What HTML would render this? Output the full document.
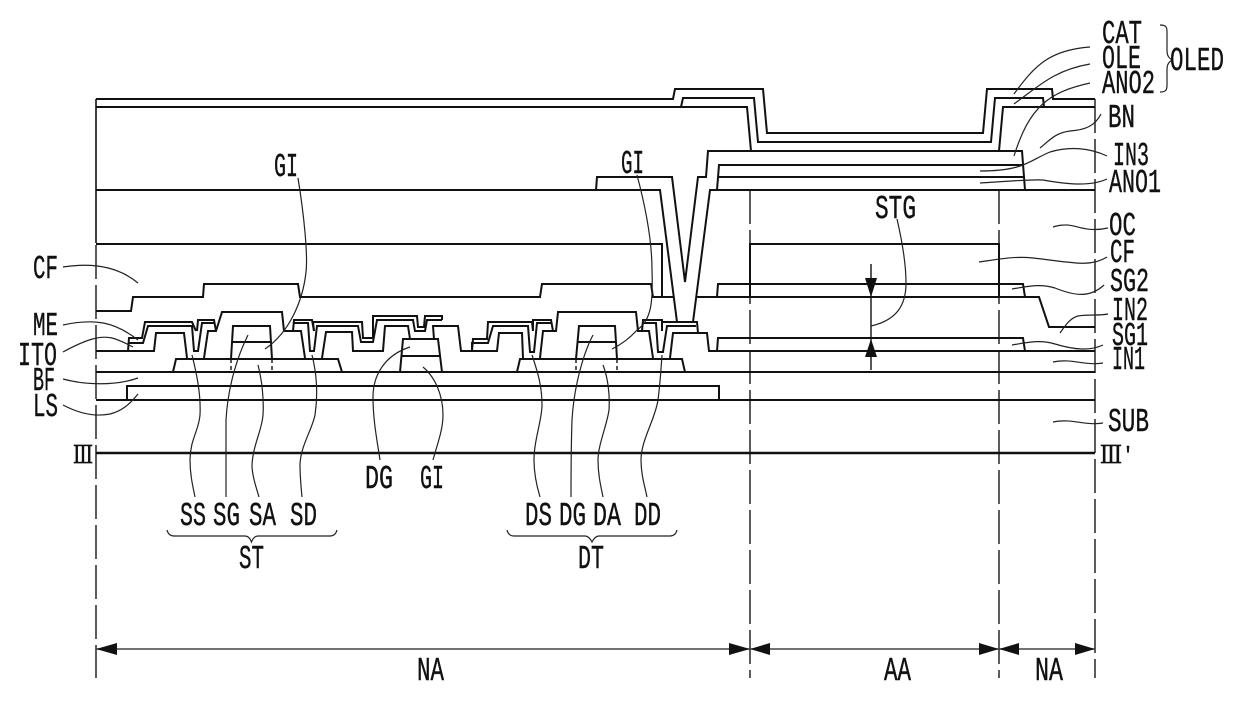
<!DOCTYPE html>
<html><head><meta charset="utf-8"><style>
html,body{margin:0;padding:0;background:#fff;width:1240px;height:719px;overflow:hidden}
svg{display:block}
text{font-family:"Liberation Mono","Noto Sans CJK JP",monospace;font-size:33px;fill:#111;stroke:#111;stroke-width:.4}
.s{fill:none;stroke:#111;stroke-width:2;stroke-linejoin:miter}
.l{fill:none;stroke:#222;stroke-width:1.2}
.d{fill:none;stroke:#333;stroke-width:1.6;stroke-dasharray:34 6}
</style></head><body>
<svg width="1240" height="719" viewBox="0 0 1240 719" xmlns="http://www.w3.org/2000/svg">
<!-- vertical reference lines -->
<path class="s" style="stroke-width:1.6" d="M96 99V243"/>
<path class="d" d="M96 245V678"/>
<path class="d" d="M750 190V678"/>
<path class="d" d="M999 190V678"/>
<path class="d" d="M1095 99V678"/>
<!-- upper layers -->
<path class="s" d="M96 99H673L675 89H763L767 133H983L987 89H1052L1053 99H1095"/>
<path class="s" d="M96 107H747L751 151H1022L1025 190"/>
<path class="s" d="M681 107L683 98H754L758 142H991L995 98H1043L1044 107H1095"/>
<path class="s" d="M1044 107H1003L999 151"/>
<path class="s" d="M751 151H708L706 177H698L685 282L672 177H597L596 190"/>
<path class="s" d="M96 190H660L677 322"/>
<path class="s" d="M717 190L719 165H1022"/>
<path class="s" d="M718 177H1024"/>
<path class="s" d="M693 322L710 190H1095"/>
<!-- CF -->
<path class="s" d="M96 244H662V297"/>
<path class="s" d="M750 297V244H999V297"/>
<path class="s" d="M96 311H131L133 297H203L204 284H298L300 297H540L542 284H651L653 297H673"/>
<path class="s" d="M697 297H1039L1049 327H1095"/>
<path class="s" d="M717 297L718 284H1023L1025 297"/>
<path class="s" d="M717 351L718 338H1023L1025 351"/>
<path class="s" d="M96 351H154L156 333H184L187 358"/>
<path class="s" d="M709 351H1095"/>
<path class="s" d="M96 372H1095"/>
<path class="s" d="M96 400H1095"/>
<path class="s" d="M127 400V386H719V400"/>
<path class="s" style="stroke-width:2.6" d="M96 453H1095"/>
<!-- source/drain stacks, ST -->
<path class="s" d="M128 351L129 338H142L145 322H192L196 331"/>
<path class="s" d="M197 331L198 320H214L216 331"/>
<path class="s" d="M129 343H143L148 326H192L194 351H198L202 323H214"/>
<path class="s" d="M204 358L208 331H216L222 312H282L284 331H293L294 320H312L314 331"/>
<path class="s" d="M294 323H308L310 351H314L317 326H358L361 342H373L377 320H413L415 331H425L427 320H442"/>
<path class="s" d="M293 331H301L305 358"/>
<path class="s" d="M314 331L313 322H362L363 338H373L373 316H417L418 327H424L425 316H442V320"/>
<path class="s" d="M322 358L326 332H352L353 351H383L385 326H408L410 339"/>
<path class="s" d="M173 372L176 359H338L342 372"/>
<path class="s" d="M231 359L233 326H270L272 359"/>
<path class="s" d="M232 342H271"/>
<path class="s" style="stroke-width:1.4;stroke-dasharray:4 3" d="M231 359V372M272 359V372"/>
<path class="s" d="M400 372L403 339H438L442 372"/>
<path class="s" d="M402 356H440"/>
<path class="s" d="M434 339L433 326H458L461 351H472L473 339H487L488 322H532L533 331"/>
<path class="s" d="M472 351V343H488L493 326H528L530 352H534L537 323H551"/>
<path class="s" d="M472 351H497L499 333H522L523 358"/>
<path class="s" d="M533 331L533 320H551L553 331H556L558 312H636L638 331H642L643 320H662V331"/>
<path class="s" d="M540 358L543 331H556"/>
<path class="s" d="M517 372L520 359H682L685 372"/>
<path class="s" d="M576 359L579 326H615L617 359"/>
<path class="s" d="M578 342H616"/>
<path class="s" style="stroke-width:1.4;stroke-dasharray:4 3" d="M576 359V372M617 359V372"/>
<path class="s" d="M642 323H656L658 352H663L667 326H696"/>
<path class="s" d="M642 331H649L653 358"/>
<path class="s" d="M663 322H697L698 333"/>
<path class="s" d="M670 358L673 333H707L709 351H718"/>
<!-- STG arrows -->
<path class="s" style="stroke-width:1.4" d="M871 264V370"/>
<path fill="#111" d="M865 278H877L871 297Z"/>
<path fill="#111" d="M865 357H877L871 339Z"/>
<!-- dimension arrows -->
<path class="s" style="stroke-width:1.6;stroke:#444" d="M96 649H1095"/>
<path fill="#111" d="M96 649L117 643V655Z"/>
<path fill="#111" d="M750 649L729 643V655Z"/>
<path fill="#111" d="M750 649L770 643V655Z"/>
<path fill="#111" d="M999 649L979 643V655Z"/>
<path fill="#111" d="M999 649L1019 643V655Z"/>
<path fill="#111" d="M1095 649L1075 643V655Z"/>
<!-- leaders -->
<path class="l" d="M298 178C304 215 308 255 306 272C303 300 290 332 265 349"/>
<path class="l" d="M637 175C645 205 652 240 652 270C653 300 652 320 637 330C630 338 622 344 612 349"/>
<path class="l" d="M897 219C903 245 906 265 906 283C906 305 897 320 871 326"/>
<path class="l" d="M1090 47C1050 50 1035 65 1014 94"/>
<path class="l" d="M1090 64C1055 70 1040 85 1014 104"/>
<path class="l" d="M1090 83C1050 92 1030 105 1014 156"/>
<path class="l" d="M1101 114C1095 126 1085 130 1070 131C1055 133 1050 140 1040 148"/>
<path class="l" d="M1107 156C1090 148 1070 146 1050 152C1030 160 1025 171 980 171"/>
<path class="l" d="M1107 179C1090 187 1065 184 1043 180C1030 179 1000 182 980 183"/>
<path class="l" d="M1108 228C1085 233 1075 224 1065 225C1060 225 1056 226 1053 227"/>
<path class="l" d="M1107 257C1090 268 1070 262 1033 258C1015 256 1000 259 979 262"/>
<path class="l" d="M1104 285C1090 298 1075 296 1055 288C1040 283 1025 287 1012 289"/>
<path class="l" d="M1108 314C1098 316 1090 314 1078 316C1070 318 1065 326 1060 333"/>
<path class="l" d="M1103 345C1090 351 1075 350 1055 344C1040 339 1025 343 1012 345"/>
<path class="l" d="M1103 363C1085 366 1072 358 1053 362"/>
<path class="l" d="M1103 423C1085 426 1072 418 1053 422"/>
<path class="l" d="M63 267C95 262 120 268 138 283"/>
<path class="l" d="M63 325C95 318 115 322 138 340"/>
<path class="l" d="M63 352C85 340 100 335 112 338C120 340 127 344 133 347"/>
<path class="l" d="M63 379C85 385 115 386 138 378"/>
<path class="l" d="M63 405C80 414 95 417 110 414C122 411 130 404 138 394"/>
<path class="l" d="M192 355C197 375 201 395 200 415C199 430 190 440 190 460C190 475 193 487 195 497"/>
<path class="l" d="M248 335C238 355 228 385 226 420C226 450 226 475 226 497"/>
<path class="l" d="M258 365C262 380 264 400 263 415C262 430 253 445 252 465C252 475 256 487 259 497"/>
<path class="l" d="M312 355C317 375 318 395 315 415C312 430 301 445 300 464C300 475 301 487 302 497"/>
<path class="l" d="M410 347C385 355 373 375 373 397C373 420 377 440 380 460"/>
<path class="l" d="M423 367C435 377 443 395 443 415C443 430 437 445 433 460"/>
<path class="l" d="M532 355C537 370 542 385 542 405C542 420 534 440 534 460C534 475 537 487 540 497"/>
<path class="l" d="M593 335C584 352 574 385 572 420C571 450 571 475 571 497"/>
<path class="l" d="M603 365C608 378 610 395 609 410C607 425 598 445 598 460C598 475 601 487 603 497"/>
<path class="l" d="M662 355C661 370 660 385 658 400C655 420 641 440 641 460C641 475 645 487 647 497"/>
<!-- braces -->
<path class="l" d="M167 530C168 534 170 536 174 536H245C248 536 250 538 251.500 542C253 538 255 536 258 536H330C334 536 336 534 337 530"/>
<path class="l" d="M507 530C508 534 510 536 514 536H585C588 536 590 538 592 542C594 538 596 536 599 536H670C674 536 676 534 677 530"/>
<path class="l" d="M1160 25C1166 25 1167 27 1167 32V50C1167 56 1169 58 1172 60C1169 62 1167 64 1167 70V85C1167 90 1166 92 1160 92"/>
<!-- labels -->
<text x="1102" y="43" textLength="40" lengthAdjust="spacingAndGlyphs">CAT</text>
<text x="1102" y="68" textLength="39" lengthAdjust="spacingAndGlyphs">OLE</text>
<text x="1102" y="93" textLength="53" lengthAdjust="spacingAndGlyphs">ANO2</text>
<text x="1170" y="70" textLength="54" lengthAdjust="spacingAndGlyphs">OLED</text>
<text x="1108" y="127" textLength="27" lengthAdjust="spacingAndGlyphs">BN</text>
<text x="1113" y="165" textLength="36" lengthAdjust="spacingAndGlyphs">IN3</text>
<text x="1109" y="192" textLength="52" lengthAdjust="spacingAndGlyphs">ANO1</text>
<text x="1109" y="235" textLength="27" lengthAdjust="spacingAndGlyphs">OC</text>
<text x="1110" y="262" textLength="25" lengthAdjust="spacingAndGlyphs">CF</text>
<text x="1110" y="291" textLength="39" lengthAdjust="spacingAndGlyphs">SG2</text>
<text x="1112" y="320" textLength="36" lengthAdjust="spacingAndGlyphs">IN2</text>
<text x="1112" y="345" textLength="36" lengthAdjust="spacingAndGlyphs">SG1</text>
<text x="1112" y="369" textLength="33" lengthAdjust="spacingAndGlyphs">IN1</text>
<text x="1108" y="431" textLength="41" lengthAdjust="spacingAndGlyphs">SUB</text>
<text x="1100" y="463" textLength="22" lengthAdjust="spacingAndGlyphs" style="font-family:'Liberation Serif','Noto Serif CJK SC',serif;font-size:24px;stroke-width:.8">Ⅲ</text>
<text x="1122" y="461" style="font-size:20px">'</text>
<text x="73" y="463" textLength="20" lengthAdjust="spacingAndGlyphs" style="font-family:'Liberation Serif','Noto Serif CJK SC',serif;font-size:24px;stroke-width:.8">Ⅲ</text>
<text x="33" y="278" textLength="25" lengthAdjust="spacingAndGlyphs">CF</text>
<text x="33" y="335" textLength="25" lengthAdjust="spacingAndGlyphs">ME</text>
<text x="18" y="365" textLength="39" lengthAdjust="spacingAndGlyphs">ITO</text>
<text x="33" y="390" textLength="22" lengthAdjust="spacingAndGlyphs">BF</text>
<text x="33" y="416" textLength="25" lengthAdjust="spacingAndGlyphs">LS</text>
<text x="274" y="176" textLength="24" lengthAdjust="spacingAndGlyphs">GI</text>
<text x="621" y="173" textLength="23" lengthAdjust="spacingAndGlyphs">GI</text>
<text x="875" y="218" textLength="41" lengthAdjust="spacingAndGlyphs">STG</text>
<text x="365" y="488" textLength="28" lengthAdjust="spacingAndGlyphs">DG</text>
<text x="420" y="488" textLength="24" lengthAdjust="spacingAndGlyphs">GI</text>
<text x="180" y="525" textLength="26" lengthAdjust="spacingAndGlyphs">SS</text>
<text x="213" y="525" textLength="27" lengthAdjust="spacingAndGlyphs">SG</text>
<text x="249" y="525" textLength="27" lengthAdjust="spacingAndGlyphs">SA</text>
<text x="290" y="525" textLength="27" lengthAdjust="spacingAndGlyphs">SD</text>
<text x="525" y="525" textLength="27" lengthAdjust="spacingAndGlyphs">DS</text>
<text x="559" y="525" textLength="27" lengthAdjust="spacingAndGlyphs">DG</text>
<text x="593" y="525" textLength="28" lengthAdjust="spacingAndGlyphs">DA</text>
<text x="634" y="525" textLength="27" lengthAdjust="spacingAndGlyphs">DD</text>
<text x="239" y="568" textLength="25" lengthAdjust="spacingAndGlyphs">ST</text>
<text x="578" y="568" textLength="26" lengthAdjust="spacingAndGlyphs">DT</text>
<text x="417" y="680" textLength="27" lengthAdjust="spacingAndGlyphs">NA</text>
<text x="884" y="680" textLength="27" lengthAdjust="spacingAndGlyphs">AA</text>
<text x="1035" y="680" textLength="28" lengthAdjust="spacingAndGlyphs">NA</text>
</svg>
</body></html>
